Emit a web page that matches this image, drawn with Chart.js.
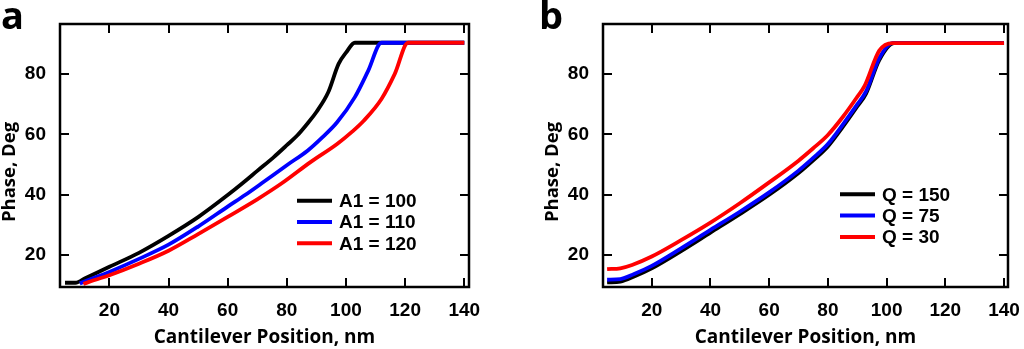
<!DOCTYPE html>
<html>
<head>
<meta charset="utf-8">
<script src="https://cdn.jsdelivr.net/npm/chart.js@4.4.1/dist/chart.umd.min.js"></script>
<style>
  html,body{margin:0;padding:0;background:#fff;}
  #wrap{position:relative;width:1024px;height:349px;}
  canvas{position:absolute;top:0;}
  #cA{left:0;} #cB{left:512px;}
</style>
</head>
<body>
<div id="wrap">
  <canvas id="cA" width="512" height="349"></canvas>
  <canvas id="cB" width="512" height="349"></canvas>
</div>
<script>
// tick labels
const xTicks = [20, 40, 60, 80, 100, 120, 140];
const yTicks = [20, 40, 60, 80];

// panel a: A1 series
const a100X = [5, 8.5, 12, 20, 30, 40, 50, 60, 65, 70, 75.5, 80, 83.5, 87, 90, 94, 97.5, 100, 103, 140];
const a100Y = [10.9, 10.9, 12.5, 16.2, 20.8, 26.4, 32.6, 39.9, 43.8, 47.9, 52.4, 56.4, 59.6, 63.6, 67.4, 73.9, 83.3, 87, 90.3, 90.3];
const a110X = [10, 14, 20, 30, 40, 50, 60, 66, 71.5, 80, 87, 92, 97, 103, 107.5, 112, 140];
const a110Y = [10.7, 12.2, 14.5, 18.8, 23.5, 29.5, 36.1, 40, 43.8, 49.8, 54.6, 59, 64, 72.3, 81, 90.3, 90.3];
const a120X = [11.2, 15, 20, 30, 40, 50, 60, 70, 78.3, 88, 97, 102, 106, 112, 116.5, 121, 140];
const a120Y = [10.5, 11.8, 13.4, 17.2, 21.5, 27, 32.7, 38.5, 43.8, 50.8, 56.8, 60.8, 64.5, 71.7, 80, 90.3, 90.3];

// panel b: Q series
const q150X = [4.8, 9.3, 14, 20, 30, 40, 50, 60, 70, 75, 80, 85.2, 90, 93, 97.5, 102.6, 140];
const q150Y = [11.0, 11.3, 13.0, 15.7, 21.4, 27.5, 33.6, 40, 47.2, 51.4, 56, 62.6, 69.2, 73.5, 84.6, 90.2, 90.2];
const q75X = [4.8, 9.3, 14, 20, 30, 40, 50, 60, 70, 75, 80, 85.2, 90, 93, 97.5, 102, 140];
const q75Y = [11.9, 12.1, 13.8, 16.5, 22.3, 28.4, 34.4, 40.8, 48, 52.2, 56.8, 63.4, 69.9, 74.2, 85.2, 90.2, 90.2];
const q30X = [4.8, 9.3, 13.3, 20, 30, 40, 50, 60, 70, 75, 80, 85.2, 90, 92.5, 97.5, 102, 140];
const q30Y = [15.4, 15.7, 16.8, 19.6, 25, 30.8, 37.2, 44.1, 51.3, 55.4, 59.8, 65.9, 72.4, 76, 87.7, 90.2, 90.2];

const tickFont = {family: '"Liberation Sans", Arial, sans-serif', size: 19, weight: 'bold'};
const titleFamily = '"Open Sans", sans-serif';

function pts(xs, ys){ return xs.map((x,i)=>({x, y: ys[i]})); }

const framePlugin = {
  id: 'frame',
  afterDraw(chart, args, opts){
    const ctx = chart.ctx, a = chart.chartArea;
    const sx = chart.scales.x, sy = chart.scales.y;
    ctx.save();
    ctx.strokeStyle = '#000';
    ctx.lineWidth = 2.5;
    ctx.strokeRect(a.left, a.top, a.right - a.left, a.bottom - a.top);
    ctx.lineWidth = 2;
    const tl = 9;
    ctx.beginPath();
    for(const v of xTicks){
      const px = Math.round(sx.getPixelForValue(v));
      ctx.moveTo(px, a.bottom); ctx.lineTo(px, a.bottom - tl);
      ctx.moveTo(px, a.top); ctx.lineTo(px, a.top + tl);
    }
    for(const v of yTicks){
      const py = Math.round(sy.getPixelForValue(v));
      ctx.moveTo(a.left, py); ctx.lineTo(a.left + tl, py);
      ctx.moveTo(a.right, py); ctx.lineTo(a.right - tl, py);
    }
    ctx.stroke();

    // y title
    ctx.fillStyle = '#000';
    ctx.font = 'bold 18.5px ' + titleFamily;
    ctx.textAlign = 'center'; ctx.textBaseline = 'middle';
    ctx.save();
    ctx.translate(opts.yTitleX, 172);
    ctx.rotate(-Math.PI/2);
    ctx.fillText('Phase, Deg', 0, 0);
    ctx.restore();

    // panel letter
    ctx.font = 'bold 38px ' + titleFamily;
    ctx.textAlign = 'left'; ctx.textBaseline = 'alphabetic';
    ctx.fillText(opts.letter, opts.letterX, 29);

    // legend
    const L = opts.legend;
    ctx.font = 'bold 19px "Liberation Sans", Arial, sans-serif';
    ctx.textBaseline = 'middle';
    chart.data.datasets.forEach((ds, i)=>{
      const y = L.y + i * 21.3;
      ctx.strokeStyle = ds.borderColor; ctx.lineWidth = 4;
      ctx.beginPath(); ctx.moveTo(L.x, y); ctx.lineTo(L.x + 35, y); ctx.stroke();
      ctx.fillStyle = '#000';
      ctx.fillText(ds.label, L.x + 42, y + 1);
    });
    ctx.restore();
  }
};

function makeChart(id, sets, xmin, xmax, leftW, rightPad, letter, letterX, yTitleX, legend){
  return new Chart(document.getElementById(id), {
    type: 'scatter',
    data: {
      datasets: sets.map(s=>({
        label: s.label, data: s.data, showLine: true, borderColor: s.color,
        backgroundColor: s.color, borderWidth: 3.8, pointRadius: 0,
        cubicInterpolationMode: 'monotone', order: s.order
      }))
    },
    options: {
      responsive: false, animation: false,
      layout: {padding: {top: 24, right: rightPad, left: 0, bottom: 0}},
      plugins: {legend: {display: false}, tooltip: {enabled: false},
        frame: {letter, letterX, yTitleX, legend}},
      scales: {
        x: {
          type: 'linear', min: xmin, max: xmax,
          grid: {display: false}, border: {display: false},
          afterBuildTicks: s => { s.ticks = xTicks.map(v=>({value: v})); },
          afterFit: s => { s.height = 62; },
          ticks: {font: tickFont, color: '#000', padding: 4, maxRotation: 0},
          title: {display: true, text: 'Cantilever Position, nm', color: '#000',
            font: {family: titleFamily, size: 19, weight: 'bold'}, padding: {top: 0, bottom: 0}}
        },
        y: {
          min: 9.5, max: 96.5,
          grid: {display: false}, border: {display: false},
          afterBuildTicks: s => { s.ticks = yTicks.map(v=>({value: v})); },
          afterFit: s => { s.width = leftW; },
          ticks: {font: tickFont, color: '#000', padding: 6}
        }
      }
    },
    plugins: [framePlugin]
  });
}

makeChart('cA', [
  {label: 'A1 = 100', data: pts(a100X, a100Y), color: '#000000', order: 3},
  {label: 'A1 = 110', data: pts(a110X, a110Y), color: '#0000ff', order: 2},
  {label: 'A1 = 120', data: pts(a120X, a120Y), color: '#ff0000', order: 1}
], 3.3, 141.6, 60, 43, 'a', 1, 10, {x: 297, y: 200.7});

makeChart('cB', [
  {label: 'Q = 150', data: pts(q150X, q150Y), color: '#000000', order: 3},
  {label: 'Q = 75', data: pts(q75X, q75Y), color: '#0000ff', order: 2},
  {label: 'Q = 30', data: pts(q30X, q30Y), color: '#ff0000', order: 1}
], 3.4, 141.35, 91, 12, 'b', 27, 41, {x: 328, y: 194.3});
</script>
</body>
</html>
